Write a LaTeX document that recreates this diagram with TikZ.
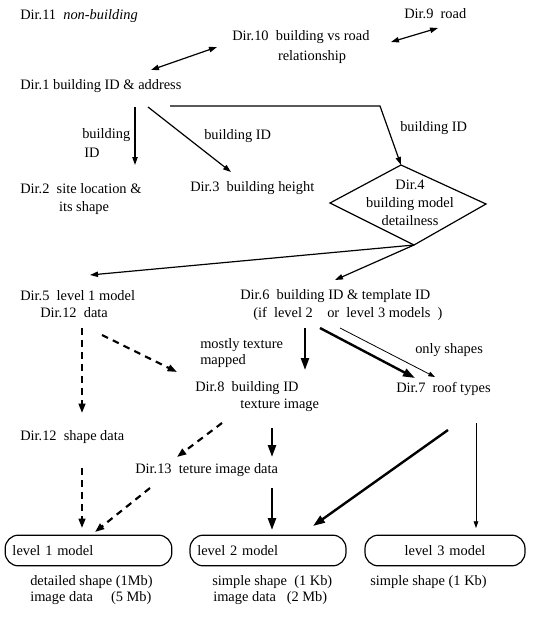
\documentclass[tikz,border=0pt]{standalone}
\usepackage{fontspec}
\setmainfont{Liberation Serif}
\usetikzlibrary{arrows.meta}
\begin{document}
\begin{tikzpicture}[x=0.75pt,y=-0.75pt,
  font=\fontsize{10.8}{13.5}\selectfont,
  txt/.style={anchor=west,inner sep=0pt},
  ctxt/.style={inner sep=0pt},
  arr/.style={-{Triangle[length=6pt,width=4pt]},line width=0.9pt},
  dbl/.style={{Triangle[length=6pt,width=4pt]}-{Triangle[length=6pt,width=4pt]},line width=0.9pt},
  thk/.style={-{Triangle[length=9pt,width=6pt]},line width=1.8pt},
  thn/.style={-{Triangle[length=5pt,width=3.5pt]},line width=0.6pt},
  dsh/.style={-{Triangle[length=7pt,width=5pt]},line width=1.6pt,dash pattern=on 5pt off 4pt},
  box/.style={draw,rounded corners=10pt,line width=0.9pt,minimum height=23pt,inner xsep=5pt}]
\useasboundingbox (0,0) rectangle (558,618);

% text nodes
\node[txt] (d11) at (20,16) {Dir.11\ \ \textit{non-building}};
\node[txt] (d9) at (404,14) {Dir.9\ \ road};
\node[txt] (d10) at (232,37) {Dir.10\ \ building vs road};
\node[ctxt] (d10b) at (312,57) {relationship};
\node[txt] (d1) at (20,86) {Dir.1 building ID \& address};
\node[txt] (lb1) at (82,135) {building};
\node[txt] (lb1b) at (84,153) {ID};
\node[txt] (lb2) at (204,136) {building ID};
\node[txt] (lb3) at (400,128) {building ID};
\node[txt] (d2) at (20,189) {Dir.2\ \ site location \&};
\node[ctxt] (d2b) at (84,208) {its shape};
\node[txt] (d3) at (190,188) {Dir.3\ \ building height};

% diamond
\coordinate (d4l) at (330,203);
\coordinate (d4t) at (401,165);
\coordinate (d4r) at (486,204);
\coordinate (d4b) at (414,245);
\draw[line width=0.9pt] (d4l) -- (d4t) -- (d4r) -- (d4b) -- cycle;
\node[ctxt,align=center] (d4) at (410,203) {Dir.4\\building model\\detailness};

\node[txt] (d5) at (20,296) {Dir.5\ \ level 1 model};
\node[txt] (d12a) at (40,313) {Dir.12\ \ data};
\node[txt] (d6) at (240,296) {Dir.6\ \ building ID \& template ID};
\node[txt] (d6b) at (253,314) {(if\ \ level 2\ \ \ \ or\ \ level 3 models\ \ )};
\node[txt] (lmt) at (200,345) {mostly texture};
\node[txt] (lmt2) at (200,361) {mapped};
\node[txt] (los) at (415,350) {only shapes};
\node[txt] (d8) at (195,388) {Dir.8\ \ building ID};
\node[txt] (d8b) at (240,405) {texture image};
\node[txt] (d7) at (396,389) {Dir.7\ \ roof types};
\node[txt] (d12) at (20,437) {Dir.12\ \ shape data};
\node[txt] (d13) at (135,470) {Dir.13\ \ teture image data};

% model boxes
\node[box,minimum width=125pt,text width=114pt,align=left] (l1) at (88.5,550.5) {level 1 model};
\node[box,minimum width=117pt,text width=106pt,align=left] (l2) at (268,550.5) {level 2 model};
\node[box,minimum width=120pt,text width=109pt,align=center] (l3) at (445,550.5) {level 3 model};

\node[txt] (b1a) at (30,582) {detailed shape (1Mb)};
\node[txt] (b1b) at (30,598) {image data\ \ \ \ \ (5 Mb)};
\node[txt] (b2a) at (212,582) {simple shape\ \ (1 Kb)};
\node[txt] (b2b) at (213,598) {image data\ \ \ (2 Mb)};
\node[txt] (b3a) at (370,582) {simple shape (1 Kb)};

% connector end points
\coordinate (a1) at (391,42);  \coordinate (a2) at (438,28);
\coordinate (a3) at (151,70);  \coordinate (a4) at (217,47);
\coordinate (a5) at (135,107); \coordinate (a6) at (135,165);
\coordinate (a7) at (148,107); \coordinate (a8) at (231,172);
\coordinate (a9) at (170,106); \coordinate (a10) at (380,106);
\coordinate (a11) at (90,275); \coordinate (a12) at (335,280);
\coordinate (c1) at (82,328);  \coordinate (c2) at (82,413);
\coordinate (c3) at (102,335); \coordinate (c4) at (177,372);
\coordinate (c5) at (222,423); \coordinate (c6) at (177,457);
\coordinate (c7) at (82,468);  \coordinate (c8) at (82,528);
\coordinate (c9) at (150,488); \coordinate (c10) at (95,532);
\coordinate (e1) at (305,328); \coordinate (e2) at (305,370);
\coordinate (e3) at (320,328); \coordinate (e4) at (415,378);
\coordinate (e5) at (272,428); \coordinate (e6) at (272,457);
\coordinate (e7) at (272,488); \coordinate (e8) at (272,530);
\coordinate (e9) at (448,430); \coordinate (e10) at (313,526);
\coordinate (f1) at (340,328); \coordinate (f2) at (435,377);
\coordinate (f3) at (476,423); \coordinate (f4) at (476,528);

% connectors
\draw[dbl] (a1) -- (a2);
\draw[dbl] (a3) -- (a4);
\draw[arr] (a5) -- (a6);
\draw[arr] (a7) -- (a8);
\draw[arr] (a9) -- (a10) -- (d4t);
\draw[arr] (d4b) -- (a11);
\draw[arr] (d4b) -- (a12);
\draw[dsh] (c1) -- (c2);
\draw[dsh] (c3) -- (c4);
\draw[dsh] (c5) -- (c6);
\draw[dsh] (c7) -- (c8);
\draw[dsh] (c9) -- (c10);
\draw[thk] (e1) -- (e2);
\draw[thk] (e3) -- (e4);
\draw[thk] (e5) -- (e6);
\draw[thk] (e7) -- (e8);
\draw[thk] (e9) -- (e10);
\draw[thn] (f1) -- (f2);
\draw[thn] (f3) -- (f4);
\end{tikzpicture}
\end{document}
